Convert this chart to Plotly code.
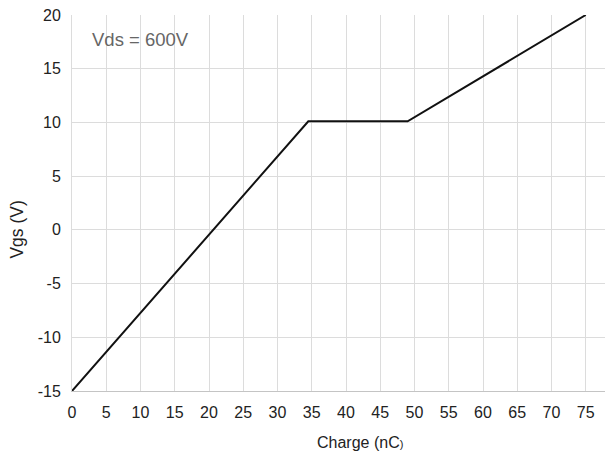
import plotly.graph_objects as go

charge = [0, 34.5, 49, 75]
vgs = [-15, 10.1, 10.1, 20]
x_ticks = list(range(0, 85, 5))
y_ticks = list(range(-15, 25, 5))
y_tick_text = [str(v) for v in y_ticks]

fig = go.Figure()
fig.add_trace(go.Scatter(x=charge, y=vgs, mode="lines",
                         line=dict(color="#111111", width=2), showlegend=False))

fig.update_layout(
    width=622, height=446,
    margin=dict(l=63.5, r=10, t=7, b=63),
    paper_bgcolor="white", plot_bgcolor="white",
    font=dict(family="Liberation Sans, Arial, sans-serif", color="#222222", size=16),
    xaxis=dict(range=[0, 80], tickvals=x_ticks, showgrid=True, gridcolor="#dcdcdc",
               zeroline=False, showline=True, linecolor="#c4c4c4", linewidth=1,
               ticks="outside", ticklen=7, tickcolor="rgba(0,0,0,0)",
               tickfont=dict(size=16), automargin=False, ticklabeloverflow="allow"),
    yaxis=dict(range=[-15, 20], tickvals=y_ticks, ticktext=y_tick_text, showgrid=True,
               gridcolor="#dcdcdc", zeroline=False, showline=True, linecolor="#dcdcdc",
               ticks="outside", ticklen=7, tickcolor="rgba(0,0,0,0)",
               tickfont=dict(size=16), automargin=False, ticklabeloverflow="allow"),
    annotations=[
        dict(text="Vds = 600V", x=0.032, y=0.934, xref="paper", yref="paper",
             xanchor="left", yanchor="middle", showarrow=False,
             font=dict(size=18.5, color="#666666")),
        dict(text="Charge (nC<span style='font-size:11px'>)</span>", x=0.526, y=0,
             xref="paper", yref="paper", xanchor="center", yanchor="middle",
             yshift=-51, showarrow=False, font=dict(size=16, color="#222222")),
        dict(text="Vgs (V)", x=0, y=0.428, xref="paper", yref="paper",
             xanchor="center", yanchor="middle", xshift=-54.5, textangle=-90,
             showarrow=False, font=dict(size=17.5, color="#222222")),
    ],
)

fig.write_html("out.html")
